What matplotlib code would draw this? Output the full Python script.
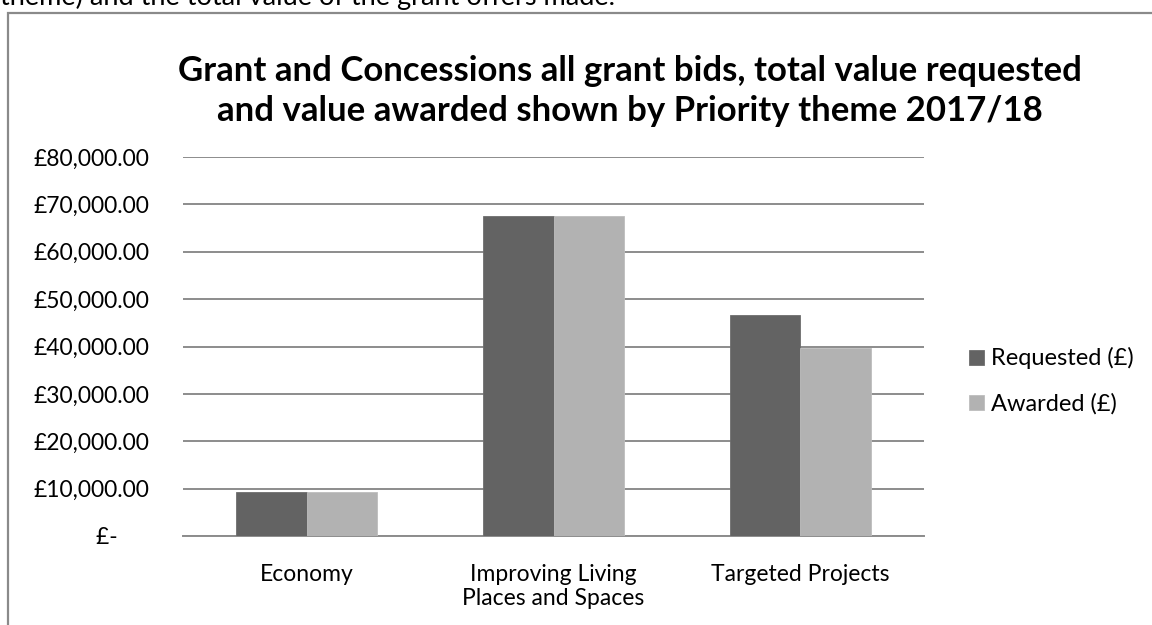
import numpy as np
import matplotlib
matplotlib.use('Agg')
import matplotlib.pyplot as plt
from matplotlib.ticker import FuncFormatter, MultipleLocator
from matplotlib.patches import Rectangle

plt.rcParams['font.family'] = ['Lato', 'DejaVu Sans']

# data
categories = ['Economy', 'Improving Living\nPlaces and Spaces', 'Targeted Projects']
requested = [9300, 67500, 46600]
awarded = [9300, 67500, 39700]
series_names = ['Requested (£)', 'Awarded (£)']
title = 'Grant and Concessions all grant bids, total value requested\nand value awarded shown by Priority theme 2017/18'

fig = plt.figure(figsize=(11.52, 6.25), dpi=100)
ax = fig.add_axes([183/1152, 1-536/625, (924-183)/1152, (536-157)/625])

x = np.arange(len(categories))
w = 0.287
ax.bar(x - w/2, requested, w, color='#636363', edgecolor='#6e6e6e', linewidth=0.6, label=series_names[0], zorder=3)
ax.bar(x + w/2, awarded, w, color='#b2b2b2', edgecolor='#bdbdbd', linewidth=0.6, label=series_names[1], zorder=3)

ax.set_xlim(-0.5, 2.5)
ax.set_ylim(0, 80000)
ax.yaxis.set_major_locator(MultipleLocator(10000))

def money(v, pos):
    if v == 0:
        return '£-\u2007\u2007 '
    return '£{:,.2f}'.format(v)
ax.yaxis.set_major_formatter(FuncFormatter(money))

ax.grid(axis='y', color='#8c8c8c', linewidth=1.4, zorder=0)
for s in ['top', 'right', 'left']:
    ax.spines[s].set_visible(False)
ax.spines['bottom'].set_color('#8c8c8c')
ax.spines['bottom'].set_linewidth(1.4)
ax.tick_params(axis='y', length=0, pad=24, labelsize=16.5)
ax.tick_params(axis='x', length=0, pad=20, labelsize=16.5)
ax.set_xticks(x)
ax.set_xticklabels(categories)

fig.text(630/1152, 1-91/625, title, ha='center', va='center', fontsize=25,
         fontweight='bold', linespacing=1.3)

fig.legend(loc='center left', bbox_to_anchor=(948/1152, 1-381/625), frameon=False,
           fontsize=17, handlelength=0.62, handleheight=0.62, handletextpad=0.3,
           labelspacing=1.0)

# outer chart border (continues past the right and bottom edges)
fig.patches.append(Rectangle((8/1152, -0.2), 1.2, 1-13/625+0.2, transform=fig.transFigure,
                             fill=False, edgecolor='#8a8a8a', linewidth=1.6))

# cut-off line of the surrounding document text
fig.text(0.0, 1-5/625, 'theme) and the total value of the grant offers made.', ha='left',
         va='baseline', fontsize=19.5)

fig.savefig('out.png', dpi=100)
